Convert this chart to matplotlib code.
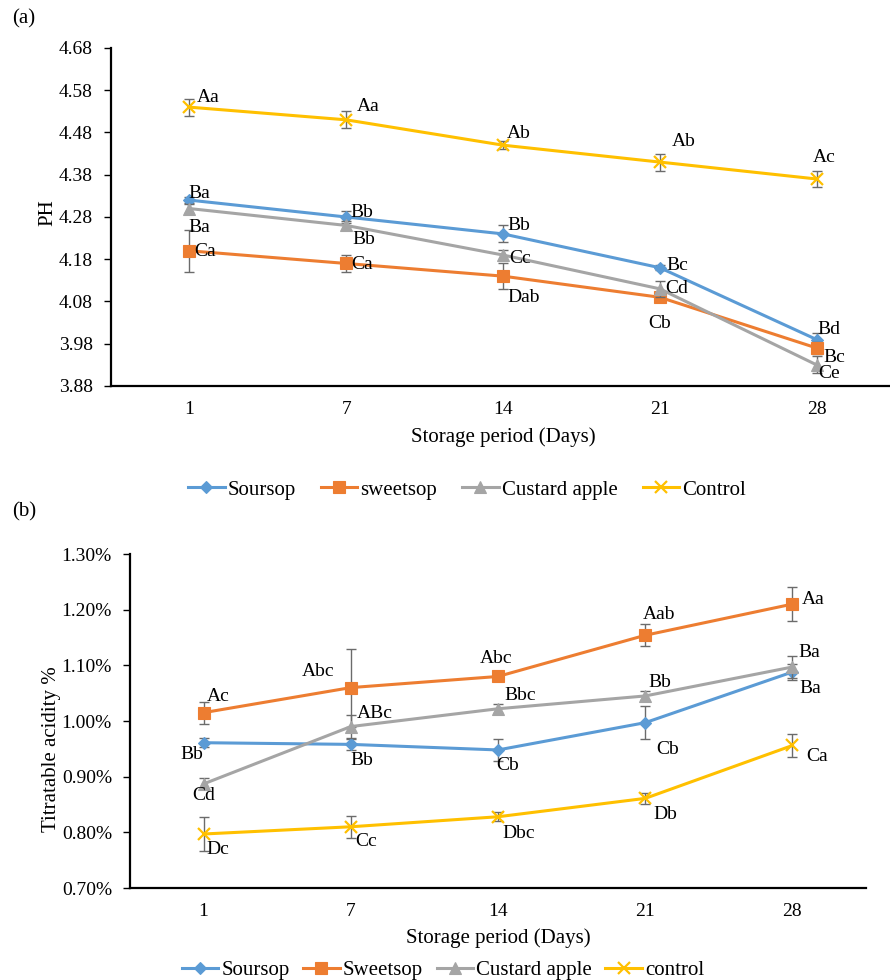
import matplotlib
matplotlib.use("Agg")
import matplotlib.pyplot as plt
from matplotlib.ticker import FuncFormatter
from matplotlib.lines import Line2D

plt.rcParams['font.family'] = ['Liberation Serif', 'DejaVu Serif']

# ---------------- data ----------------
days = ["1", "7", "14", "21", "28"]

# Panel (a) pH
ph_ticks = [3.88, 3.98, 4.08, 4.18, 4.28, 4.38, 4.48, 4.58, 4.68]
ph_soursop = [4.32, 4.28, 4.24, 4.16, 3.99]
ph_soursop_err = [0.008, 0.015, 0.02, 0.006, 0.015]
ph_sweetsop = [4.20, 4.17, 4.14, 4.09, 3.97]
ph_sweetsop_err = [0.05, 0.02, 0.03, 0.006, 0.015]
ph_custard = [4.30, 4.26, 4.19, 4.11, 3.93]
ph_custard_err = [0.01, 0.01, 0.012, 0.019, 0.02]
ph_control = [4.54, 4.51, 4.45, 4.41, 4.37]
ph_control_err = [0.02, 0.02, 0.01, 0.02, 0.02]

ph_lab_soursop = ["Ba", "Bb", "Bb", "Bc", "Bd"]
ph_lab_sweetsop = ["Ca", "Ca", "Dab", "Cb", "Bc"]
ph_lab_custard = ["Ba", "Bb", "Cc", "Cd", "Ce"]
ph_lab_control = ["Aa", "Aa", "Ab", "Ab", "Ac"]

# Panel (b) titratable acidity (%)
ta_ticks = [0.70, 0.80, 0.90, 1.00, 1.10, 1.20, 1.30]
ta_soursop = [0.961, 0.958, 0.948, 0.997, 1.088]
ta_soursop_err = [0.008, 0.01, 0.02, 0.03, 0.015]
ta_sweetsop = [1.015, 1.06, 1.08, 1.154, 1.21]
ta_sweetsop_err = [0.02, 0.07, 0.005, 0.02, 0.03]
ta_custard = [0.887, 0.99, 1.022, 1.045, 1.097]
ta_custard_err = [0.01, 0.02, 0.008, 0.008, 0.02]
ta_control = [0.797, 0.81, 0.828, 0.861, 0.956]
ta_control_err = [0.03, 0.02, 0.008, 0.01, 0.02]

ta_lab_soursop = ["Bb", "Bb", "Cb", "Cb", "Ba"]
ta_lab_sweetsop = ["Ac", "Abc", "Abc", "Aab", "Aa"]
ta_lab_custard = ["Cd", "ABc", "Bbc", "Bb", "Ba"]
ta_lab_control = ["Dc", "Cc", "Dbc", "Db", "Ca"]

legend_a = ["Soursop", "sweetsop", "Custard apple", "Control"]
legend_b = ["Soursop", "Sweetsop", "Custard apple", "control"]

# ---------------- styles / layout ----------------
W, H = 890, 980
colors = ["#5B9BD5", "#ED7D31", "#A5A5A5", "#FFC000"]
markers = ["D", "s", "^", "x"]
msizes = [6.5, 9, 9, 9]
ERRC = "#6b6b6b"
FS_TICK = 14
FS_LAB = 15
FS_DATA = 14

# label offsets in pixels (dx, dy downward, ha)
off_a = [
    [(-1, -7, 'left'), (4, -4, 'left'), (4, -8, 'left'), (7, -2, 'left'), (1, -10, 'left')],
    [(5, 1, 'left'), (5, 1, 'left'), (4, 21, 'left'), (0, 26, 'center'), (7, 10, 'left')],
    [(-1, 19, 'left'), (6, 14, 'left'), (6, 3, 'left'), (5, 0, 'left'), (2, 9, 'left')],
    [(7, -10, 'left'), (11, -13, 'left'), (4, -12, 'left'), (12, -21, 'left'), (-4, -21, 'left')],
]
off_b = [
    [(0, 12, 'right'), (0, 16, 'left'), (-2, 16, 'left'), (11, 27, 'left'), (7, 16, 'left')],
    [(3, -16, 'left'), (-16, -16, 'right'), (-2, -18, 'center'), (-2, -21, 'left'), (9, -5, 'left')],
    [(0, 12, 'center'), (6, -13, 'left'), (6, -13, 'left'), (3, -13, 'left'), (6, -15, 'left')],
    [(3, 15, 'left'), (4, 15, 'left'), (4, 17, 'left'), (8, 16, 'left'), (14, 11, 'left')],
]

fig = plt.figure(figsize=(W / 100, H / 100), dpi=100)


def px_axes(l, t, r, b):
    return fig.add_axes([l / W, 1 - b / H, (r - l) / W, (b - t) / H])


def draw_panel(ax, series, errs, labels, offsets, yticks, ylabel, fmt):
    x = list(range(len(days)))
    for i, (vals, e, labs) in enumerate(zip(series, errs, labels)):
        ax.errorbar(x, vals, yerr=e, fmt='none', ecolor=ERRC, elinewidth=1.0,
                    capsize=3.5, capthick=1.0, zorder=2 + i)
        ax.plot(x, vals, color=colors[i], lw=2.2, marker=markers[i],
                markersize=msizes[i], markeredgewidth=1.6 if markers[i] == 'x' else 0.8,
                markeredgecolor=colors[i], zorder=3 + i)
        for j, (xv, yv) in enumerate(zip(x, vals)):
            dx, dy, ha = offsets[i][j]
            ax.annotate(labs[j], (xv, yv), xytext=(dx, -dy), textcoords='offset pixels',
                        ha=ha, va='center', fontsize=FS_DATA, zorder=10)
    ax.set_xlim(-0.5, len(days) - 0.5)
    ax.set_ylim(yticks[0], yticks[-1])
    ax.set_yticks(yticks)
    ax.yaxis.set_major_formatter(FuncFormatter(fmt))
    ax.set_xticks(x)
    ax.set_xticklabels(days)
    ax.tick_params(axis='x', length=0, pad=11, labelsize=FS_TICK)
    ax.tick_params(axis='y', length=5, width=1, pad=8, labelsize=FS_TICK, direction='out')
    for s in ['top', 'right']:
        ax.spines[s].set_visible(False)
    for s in ['left', 'bottom']:
        ax.spines[s].set_linewidth(1.6)
    ax.set_xlabel("Storage period (Days)", fontsize=FS_LAB)
    ax.set_ylabel(ylabel, fontsize=FS_LAB)


# Panel (a)
axa = px_axes(111, 48, 895, 386)
draw_panel(axa, [ph_soursop, ph_sweetsop, ph_custard, ph_control],
           [ph_soursop_err, ph_sweetsop_err, ph_custard_err, ph_control_err],
           [ph_lab_soursop, ph_lab_sweetsop, ph_lab_custard, ph_lab_control],
           off_a, ph_ticks, "PH", lambda v, _: f"{v:.2f}")
axa.xaxis.set_label_coords(0.5, (386 - 437) / 338)
axa.xaxis.label.set_va('center')
axa.yaxis.set_label_coords((48 - 111) / 784, (386 - 213) / 338)
axa.yaxis.label.set_va('center')

# Panel (b)
axb = px_axes(130, 554, 866, 888)
draw_panel(axb, [ta_soursop, ta_sweetsop, ta_custard, ta_control],
           [ta_soursop_err, ta_sweetsop_err, ta_custard_err, ta_control_err],
           [ta_lab_soursop, ta_lab_sweetsop, ta_lab_custard, ta_lab_control],
           off_b, ta_ticks, "Titratable acidity %", lambda v, _: f"{v:.2f}%")
axb.xaxis.set_label_coords(0.5, (888 - 938) / 334)
axb.xaxis.label.set_va('center')
axb.yaxis.set_label_coords((52 - 130) / 736, (888 - 749) / 334)
axb.yaxis.label.set_va('center')

# panel letters
fig.text(12 / W, 1 - 19 / H, "(a)", fontsize=FS_LAB, ha='left', va='center')
fig.text(12 / W, 1 - 512 / H, "(b)", fontsize=FS_LAB, ha='left', va='center')


def handles():
    hs = []
    for i in range(4):
        hs.append(Line2D([], [], color=colors[i], lw=2.2, marker=markers[i],
                         markersize=msizes[i] * 0.9,
                         markeredgewidth=1.6 if markers[i] == 'x' else 0.8,
                         markeredgecolor=colors[i]))
    return hs


fig.legend(handles(), legend_a, loc='center', bbox_to_anchor=(467 / W, 1 - 490 / H),
           ncol=4, frameon=False, fontsize=FS_LAB, handlelength=1.75, handletextpad=0.15,
           columnspacing=1.2, borderaxespad=0)
fig.legend(handles(), legend_b, loc='center', bbox_to_anchor=(443 / W, 1 - 970 / H),
           ncol=4, frameon=False, fontsize=FS_LAB, handlelength=1.75, handletextpad=0.15,
           columnspacing=0.65, borderaxespad=0)

fig.savefig("out.png", dpi=100)
